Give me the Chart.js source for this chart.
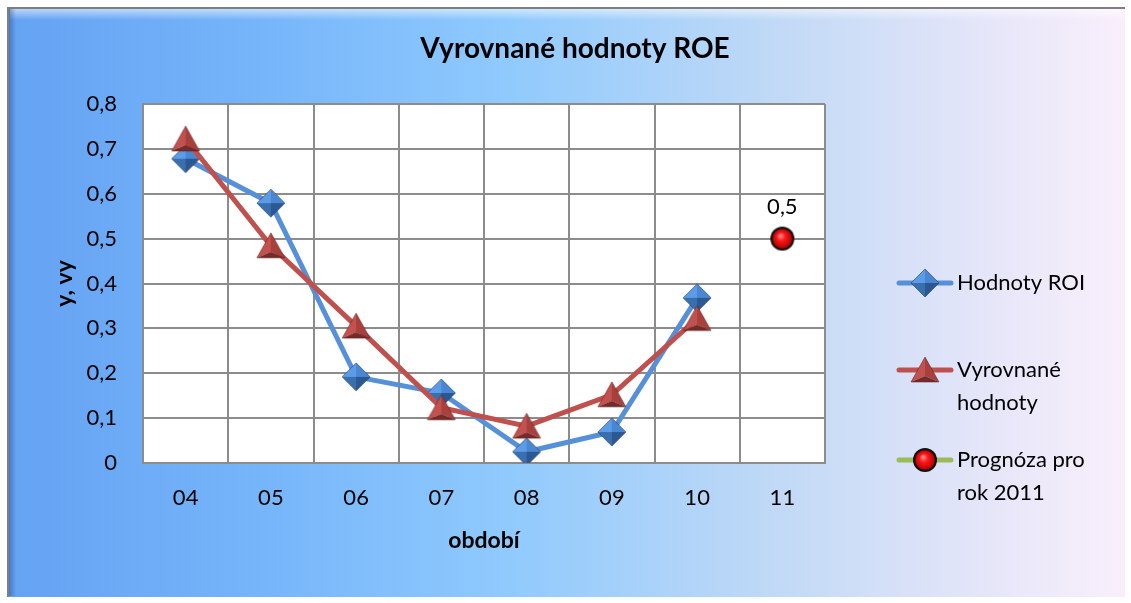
<!DOCTYPE html>
<html>
<head>
<meta charset="utf-8">
<script src="https://cdn.jsdelivr.net/npm/chart.js@4.4.0/dist/chart.umd.min.js"></script>
<style>
html,body{margin:0;padding:0;background:#fff;}
#wrap{width:1131px;height:603px;position:relative;}
</style>
</head>
<body>
<div id="wrap"><canvas id="c" width="1131" height="603"></canvas></div>
<script>
const categories = ['04','05','06','07','08','09','10','11'];
const hodnotyROI = [0.678, 0.579, 0.192, 0.156, 0.025, 0.069, 0.368, null];
const vyrovnane = [0.722, 0.484, 0.305, 0.123, 0.082, 0.152, 0.322, null];
const prognoza = [null, null, null, null, null, null, null, 0.5];
const yTicks = [0, 0.1, 0.2, 0.3, 0.4, 0.5, 0.6, 0.7, 0.8];
const chartTitle = 'Vyrovnané hodnoty ROE';
const xTitle = 'období';
const yTitle = 'y, vy';
const legendLabels = [['Hodnoty ROI'], ['Vyrovnané', 'hodnoty'], ['Prognóza pro', 'rok 2011']];

const FONT = 'Lato, "Open Sans", sans-serif';
const fmt = v => String(Math.round(v * 10) / 10).replace('.', ',');

function mk(w, h, fn) {
  const c = document.createElement('canvas');
  c.width = w; c.height = h;
  fn(c.getContext('2d'), w, h);
  return c;
}
function tri(g, pts, col) {
  g.beginPath();
  g.moveTo(pts[0][0], pts[0][1]);
  for (let i = 1; i < pts.length; i++) g.lineTo(pts[i][0], pts[i][1]);
  g.closePath();
  g.fillStyle = col;
  g.fill();
}
const diamondImg = mk(30, 30, (g, w, h) => {
  const c = [15, 15], T = [15, 1], R = [29, 15], B = [15, 29], L = [1, 15];
  tri(g, [T, c, L], '#5b9be8');
  tri(g, [T, R, c], '#4a87d2');
  tri(g, [L, c, B], '#3a6fae');
  tri(g, [c, R, B], '#2b5893');
  g.beginPath(); g.moveTo(T[0], T[1]); g.lineTo(R[0], R[1]); g.lineTo(B[0], B[1]); g.lineTo(L[0], L[1]); g.closePath();
  g.strokeStyle = 'rgba(30,60,100,0.6)'; g.lineWidth = 1; g.stroke();
});
const triangleImg = mk(30, 28, (g, w, h) => {
  const A = [15, 1], L = [1, 26], R = [29, 26], c = [15, 20];
  tri(g, [A, L, c], '#c3514e');
  tri(g, [A, c, R], '#a8403d');
  tri(g, [L, R, c], '#742b29');
  g.beginPath(); g.moveTo(A[0], A[1]); g.lineTo(R[0], R[1]); g.lineTo(L[0], L[1]); g.closePath();
  g.strokeStyle = 'rgba(90,25,25,0.5)'; g.lineWidth = 1; g.stroke();
});
const ballImg = mk(26, 26, (g) => {
  g.beginPath(); g.arc(13, 13, 12, 0, Math.PI * 2);
  g.fillStyle = '#111'; g.fill();
  const rg = g.createRadialGradient(11, 10, 1, 13, 13, 10);
  rg.addColorStop(0, '#ff8080');
  rg.addColorStop(0.35, '#ff1a1a');
  rg.addColorStop(1, '#b00000');
  g.beginPath(); g.arc(13, 13, 9.8, 0, Math.PI * 2);
  g.fillStyle = rg; g.fill();
});

const bgPlugin = {
  id: 'bg',
  beforeDraw(chart) {
    const ctx = chart.ctx, W = chart.width, H = chart.height;
    ctx.save();
    ctx.fillStyle = '#ffffff';
    ctx.fillRect(0, 0, W, H);
    const g = ctx.createLinearGradient(8, 0, W - 6, 0);
    g.addColorStop(0, '#64a2f3');
    g.addColorStop(0.25, '#78b7fa');
    g.addColorStop(0.45, '#90cafd');
    g.addColorStop(0.7, '#c3daf6');
    g.addColorStop(0.88, '#e6e6f9');
    g.addColorStop(1, '#f9effb');
    ctx.fillStyle = g;
    ctx.fillRect(8, 8, W - 14, H - 14);
    const gt = ctx.createLinearGradient(0, 9, 0, 20);
    gt.addColorStop(0, 'rgba(255,255,255,0.55)');
    gt.addColorStop(1, 'rgba(255,255,255,0)');
    ctx.fillStyle = gt;
    ctx.fillRect(10, 9, W - 18, 11);
    const gl = ctx.createLinearGradient(8, 0, 16, 0);
    gl.addColorStop(0, 'rgba(30,60,110,0.45)');
    gl.addColorStop(1, 'rgba(30,60,110,0)');
    ctx.fillStyle = gl;
    ctx.fillRect(8, 9, 8, H - 16);
    ctx.strokeStyle = '#7f7f7f';
    ctx.lineWidth = 2;
    ctx.beginPath();
    ctx.moveTo(8, H - 6);
    ctx.lineTo(8, 8);
    ctx.lineTo(W - 6, 8);
    ctx.stroke();
    const a = chart.chartArea;
    ctx.fillStyle = '#ffffff';
    ctx.fillRect(a.left, a.top, a.right - a.left, a.bottom - a.top);
    ctx.fillStyle = '#000';
    ctx.font = 'bold 28px ' + FONT;
    ctx.textAlign = 'center';
    ctx.textBaseline = 'middle';
    ctx.fillText(chartTitle, 575, 49);
    ctx.restore();
  },
  afterDatasetsDraw(chart) {
    const ctx = chart.ctx;
    ctx.save();
    const meta = chart.getDatasetMeta(2);
    meta.data.forEach((pt, i) => {
      const v = chart.data.datasets[2].data[i];
      if (v === null || v === undefined) return;
      ctx.fillStyle = '#000';
      ctx.font = '22px ' + FONT;
      ctx.textAlign = 'center';
      ctx.textBaseline = 'middle';
      ctx.fillText(fmt(v), pt.x, pt.y - 32);
    });
    const rows = [283, 370, 460];
    chart.data.datasets.forEach((ds, i) => {
      const y = rows[i];
      ctx.strokeStyle = ds.borderColor;
      ctx.lineWidth = 5;
      ctx.lineCap = 'round';
      ctx.beginPath();
      ctx.moveTo(899, y);
      ctx.lineTo(951, y);
      ctx.stroke();
      const img = ds.pointStyle;
      ctx.drawImage(img, 925 - img.width / 2, y - img.height / 2);
      ctx.fillStyle = '#000';
      ctx.font = '22px ' + FONT;
      ctx.textAlign = 'left';
      ctx.textBaseline = 'middle';
      legendLabels[i].forEach((t, k) => ctx.fillText(t, 957, y + k * 33));
    });
    ctx.restore();
  }
};

const ctx = document.getElementById('c').getContext('2d');

new Chart(ctx, {
  type: 'line',
  data: {
    labels: categories,
    datasets: [
      {
        label: 'Hodnoty ROI',
        data: hodnotyROI,
        order: 2,
        borderColor: '#5690d8',
        borderWidth: 5,
        pointStyle: diamondImg,
        pointRadius: 15,
        tension: 0
      },
      {
        label: 'Vyrovnané hodnoty',
        data: vyrovnane,
        order: 1,
        borderColor: '#c0504d',
        borderWidth: 5,
        pointStyle: triangleImg,
        pointRadius: 14,
        tension: 0
      },
      {
        label: 'Prognóza pro rok 2011',
        data: prognoza,
        order: 0,
        borderColor: '#9bbb59',
        borderWidth: 5,
        pointStyle: ballImg,
        pointRadius: 13,
        tension: 0
      }
    ]
  },
  options: {
    responsive: false,
    animation: false,
    events: [],
    layout: { padding: { left: 8, top: 104, right: 306, bottom: 10 } },
    plugins: { legend: { display: false }, title: { display: false }, tooltip: { enabled: false } },
    scales: {
      x: {
        offset: true,
        grid: { color: '#8c8c8c', lineWidth: 2, offset: true, drawTicks: false },
        border: { color: '#8c8c8c', width: 2 },
        ticks: { color: '#000', font: { family: FONT, size: 22 }, padding: 22 },
        title: { display: true, text: xTitle, color: '#000', font: { family: FONT, size: 23, weight: 'bold' }, padding: { top: 0, bottom: 39 } },
        afterFit(s) { s.height = 130; }
      },
      y: {
        min: 0, max: 0.8,
        afterBuildTicks(s) { s.ticks = yTicks.map(v => ({ value: v })); },
        grid: { color: '#8c8c8c', lineWidth: 2, drawTicks: false },
        border: { color: '#8c8c8c', width: 2 },
        ticks: { color: '#000', font: { family: FONT, size: 22 }, padding: 26, callback: v => fmt(v) },
        title: { display: true, text: yTitle, color: '#000', font: { family: FONT, size: 23, weight: 'bold' }, padding: { top: 43, bottom: 0 } },
        afterFit(s) { s.width = 135; }
      }
    }
  },
  plugins: [bgPlugin]
});
</script>
</body>
</html>
